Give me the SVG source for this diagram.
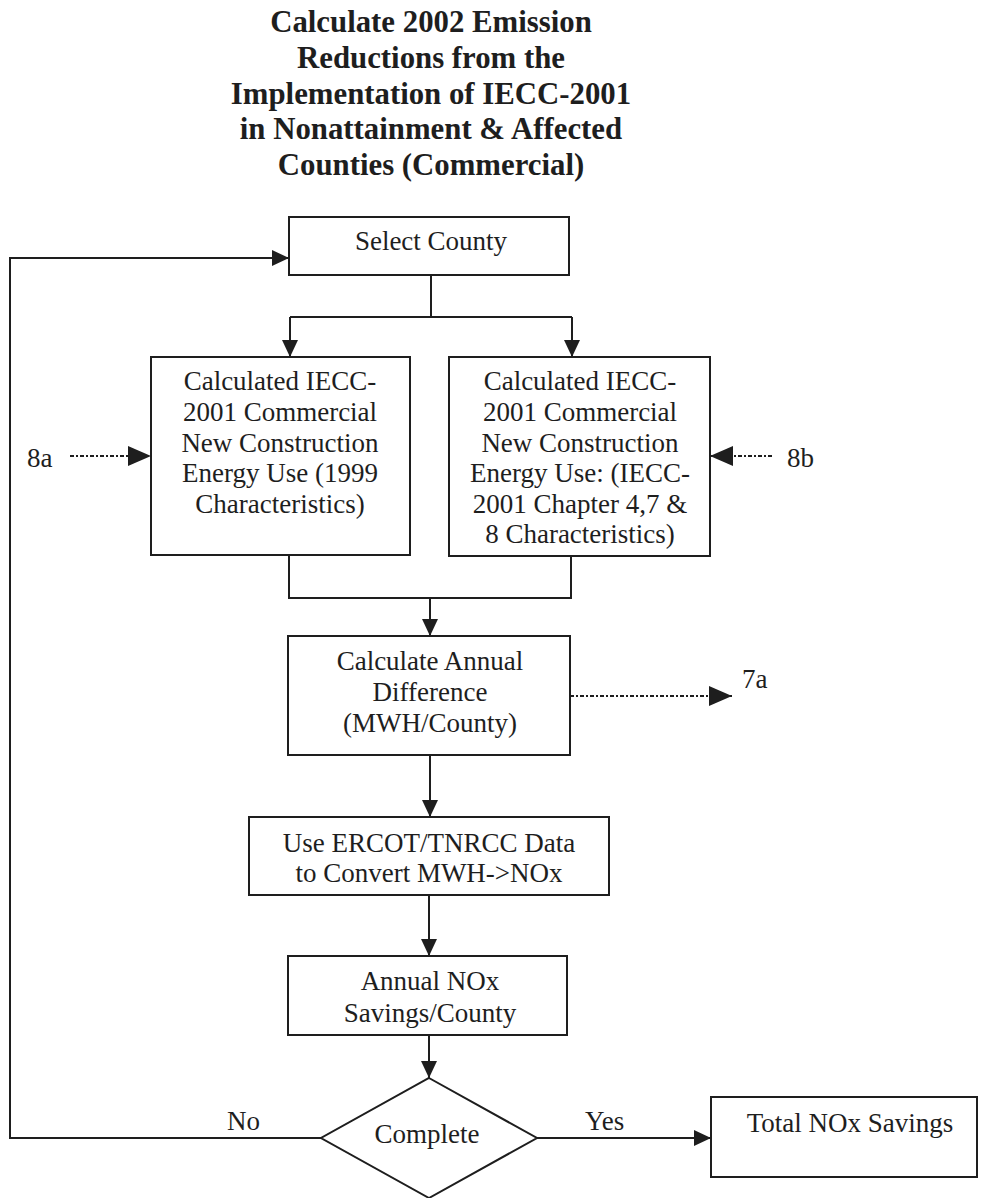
<svg xmlns="http://www.w3.org/2000/svg" width="981" height="1198" viewBox="0 0 981 1198">
<defs>
<marker id="arr" markerUnits="userSpaceOnUse" markerWidth="17" markerHeight="16" refX="17" refY="8" orient="auto"><path d="M0,0 L17,8 L0,16 z" fill="#1e1e1e"/></marker>
<marker id="arrd" markerUnits="userSpaceOnUse" markerWidth="23" markerHeight="20" refX="23" refY="10" orient="auto"><path d="M0,0 L23,10 L0,20 z" fill="#1e1e1e"/></marker>
</defs>
<style>
.box{fill:#fff;stroke:#1e1e1e;stroke-width:2}
.t{font-family:"Liberation Serif","Times New Roman",serif;font-size:27px;fill:#1e1e1e;text-anchor:middle}
.lbl{font-family:"Liberation Serif","Times New Roman",serif;font-size:27px;fill:#1e1e1e}
.title{font-family:"Liberation Serif","Times New Roman",serif;font-size:30.8px;font-weight:bold;fill:#1e1e1e;text-anchor:middle}
.c{fill:none;stroke:#1e1e1e;stroke-width:2}
.d{fill:none;stroke:#1e1e1e;stroke-width:2;stroke-dasharray:4,2,2,2}
</style>
<rect width="981" height="1198" fill="#fff"/>
<g id="title">
<text class="title" x="431" y="32">Calculate 2002 Emission</text>
<text class="title" x="431" y="68">Reductions from the</text>
<text class="title" x="431" y="104">Implementation of IECC-2001</text>
<text class="title" x="431" y="139">in Nonattainment &amp; Affected</text>
<text class="title" x="431" y="175">Counties (Commercial)</text>
</g>
<g id="connectors">
<path class="c" d="M431,275 V317"/>
<path class="c" d="M290,317 H572"/>
<path class="c" d="M290,317 V357" marker-end="url(#arr)"/>
<path class="c" d="M572,317 V357" marker-end="url(#arr)"/>
<path class="c" d="M289,555 V598 H571 V556"/>
<path class="c" d="M430,598 V636" marker-end="url(#arr)"/>
<path class="c" d="M430,755 V817" marker-end="url(#arr)"/>
<path class="c" d="M429,895 V956" marker-end="url(#arr)"/>
<path class="c" d="M429,1035 V1078" marker-end="url(#arr)"/>
<path class="c" d="M537,1138 H711" marker-end="url(#arr)"/>
<path class="c" d="M321,1138 H10 V258 H289" marker-end="url(#arr)"/>
<path class="d" d="M70,456 H151" marker-end="url(#arrd)"/>
<path class="d" d="M772,456 H710" marker-end="url(#arrd)"/>
<path class="d" d="M570,696 H732" marker-end="url(#arrd)"/>
<text class="lbl" x="27" y="467">8a</text>
<text class="lbl" x="787" y="467">8b</text>
<text class="lbl" x="742" y="688">7a</text>
<text class="lbl" x="227" y="1130">No</text>
<text class="lbl" x="585" y="1130">Yes</text>
</g>
<g id="select-county">
<rect class="box" x="289" y="217" width="280" height="58"/>
<text class="t" x="431" y="250">Select County</text>
</g>
<g id="energy-1999">
<rect class="box" x="151" y="357" width="259" height="198"/>
<text class="t" x="280" y="390">Calculated IECC-</text>
<text class="t" x="280" y="421">2001 Commercial</text>
<text class="t" x="280" y="452">New Construction</text>
<text class="t" x="280" y="482">Energy Use (1999</text>
<text class="t" x="280" y="513">Characteristics)</text>
</g>
<g id="energy-iecc">
<rect class="box" x="449" y="357" width="261" height="199"/>
<text class="t" x="580" y="390">Calculated IECC-</text>
<text class="t" x="580" y="421">2001 Commercial</text>
<text class="t" x="580" y="452">New Construction</text>
<text class="t" x="580" y="482">Energy Use: (IECC-</text>
<text class="t" x="580" y="513">2001 Chapter 4,7 &amp;</text>
<text class="t" x="580" y="543">8 Characteristics)</text>
</g>
<g id="annual-difference">
<rect class="box" x="288" y="636" width="282" height="119"/>
<text class="t" x="430" y="670">Calculate Annual</text>
<text class="t" x="430" y="701">Difference</text>
<text class="t" x="430" y="732">(MWH/County)</text>
</g>
<g id="convert">
<rect class="box" x="249" y="817" width="360" height="78"/>
<text class="t" x="429" y="852">Use ERCOT/TNRCC Data</text>
<text class="t" x="429" y="882">to Convert MWH-&gt;NOx</text>
</g>
<g id="annual-nox">
<rect class="box" x="288" y="956" width="279" height="79"/>
<text class="t" x="430" y="990">Annual NOx</text>
<text class="t" x="430" y="1022">Savings/County</text>
</g>
<g id="complete">
<path class="box" d="M429,1078 L537,1138 L429,1198 L321,1138 z"/>
<text class="t" x="427" y="1143">Complete</text>
</g>
<g id="total-nox">
<rect class="box" x="711" y="1097" width="266" height="80"/>
<text class="t" x="850" y="1132">Total NOx Savings</text>
</g>
</svg>
